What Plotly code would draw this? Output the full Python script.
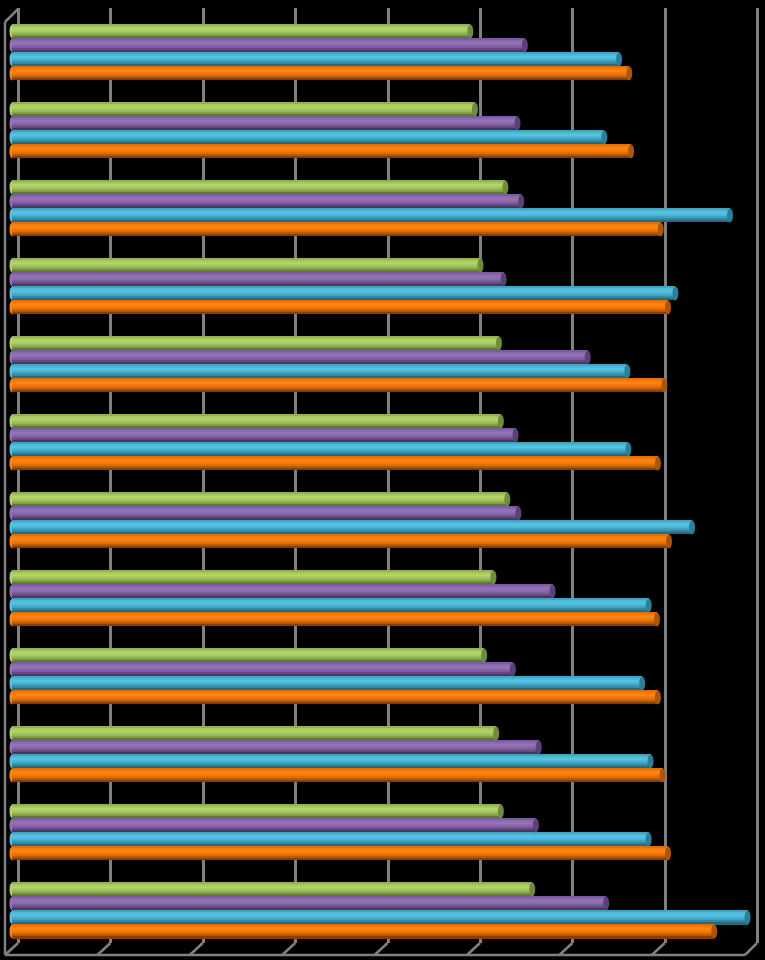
import plotly.graph_objects as go

# values, gridline spacing = 10 units, one row per group top to bottom
green = [49.6, 50.1, 53.4, 50.7, 52.7, 52.9, 53.6, 52.1, 51.1, 52.4, 52.9, 56.3]
purple = [55.5, 54.7, 55.1, 53.2, 62.3, 54.5, 54.8, 58.5, 54.2, 57.0, 56.7, 64.3]
blue = [65.7, 64.1, 77.7, 71.8, 66.6, 66.7, 73.6, 68.9, 68.2, 69.1, 68.9, 79.6]
orange = [66.8, 67.0, 70.2, 71.0, 70.6, 69.9, 71.1, 69.8, 69.9, 70.4, 71.0, 76.0]
groups = list(range(12))

# strips top to bottom fake the cylinder shading, no gradient fill on plotly bars
shades = {
    'green': ['#93b254', '#a8c862', '#b2d26a', '#acca64', '#9aba58', '#80a046', '#5f7832'],
    'purple': ['#7c5c9e', '#8e6ab2', '#9472b8', '#8c68ae', '#7c5c9a', '#65497f', '#4a3562'],
    'blue': ['#42a4c2', '#4eb9d9', '#54c2e2', '#4cb6d4', '#40a2be', '#3388a2', '#266a7c'],
    'orange': ['#e46e08', '#f97d0c', '#ff8512', '#f67a08', '#e07006', '#b85a06', '#854004'],
}
rims = {'green': '#6f8c3c', 'purple': '#5a4178', 'blue': '#2c7f98', 'orange': '#ad5507'}
series = [('green', green), ('purple', purple), ('blue', blue), ('orange', orange)]

grid_color = '#808080'
bar_h = 14 / 78
strip = bar_h / 7

data = []
shapes = []
for s, (name, vals) in enumerate(series):
    top = s * bar_h - 2 * bar_h
    for i, col in enumerate(shades[name]):
        data.append(go.Bar(y=groups, x=vals, orientation='h', base=0,
                           offset=top + i * strip, width=strip * 1.05,
                           marker=dict(color=col, line=dict(width=0)),
                           showlegend=False, hoverinfo='x'))
    for g, v in zip(groups, vals):
        cy = g + top + bar_h / 2
        # darker end of the cylinder on the far side, plain round cap on the near side
        shapes.append(dict(type='circle', layer='above', xref='x', yref='y',
                           xsizemode='pixel', xanchor=v, x0=-3, x1=3,
                           y0=cy - bar_h / 2, y1=cy + bar_h / 2,
                           fillcolor=rims[name], line=dict(width=0)))
        shapes.append(dict(type='circle', layer='below', xref='x', yref='y',
                           xsizemode='pixel', xanchor=0, x0=-2.5, x1=3,
                           y0=cy - bar_h / 2, y1=cy + bar_h / 2,
                           fillcolor=shades[name][2], line=dict(width=0)))

# walls and floor of the 3d frame sit outside the plot area, in pixels
W, H = 765, 960
def px_line(x0, y0, x1, y1):
    return dict(type='line', xref='paper', yref='paper', x0=x0 / W, x1=x1 / W,
                y0=1 - (y0 - 8) / 935, y1=1 - (y1 - 8) / 935,
                line=dict(color=grid_color, width=2.5), layer='below')

shapes.append(px_line(5, 22, 18, 9))
shapes.append(px_line(5, 22, 5, 955))
shapes.append(px_line(5, 955, 745, 955))
shapes.append(px_line(745, 955, 757, 943))
for k in range(8):
    shapes.append(px_line(18 + 92.4 * k, 943, 5 + 92.4 * k, 955))

layout = go.Layout(
    width=W, height=H,
    margin=dict(l=0, r=0, t=8, b=17),
    paper_bgcolor='black', plot_bgcolor='black',
    barmode='overlay', bargap=0,
    showlegend=False, shapes=shapes,
    xaxis=dict(range=[-1.3, 81.49], tick0=0.7, dtick=10, showgrid=True,
               gridcolor=grid_color, gridwidth=2.5, zeroline=False,
               showticklabels=False, ticks=''),
    yaxis=dict(range=[11.418, -0.569], showgrid=False, zeroline=False,
               showticklabels=False, ticks=''),
)

fig = go.Figure(data=data, layout=layout)
fig.write_html('out.html', config=dict(displayModeBar=False),
               post_script="document.body.style.margin='0';document.body.style.background='black';")
